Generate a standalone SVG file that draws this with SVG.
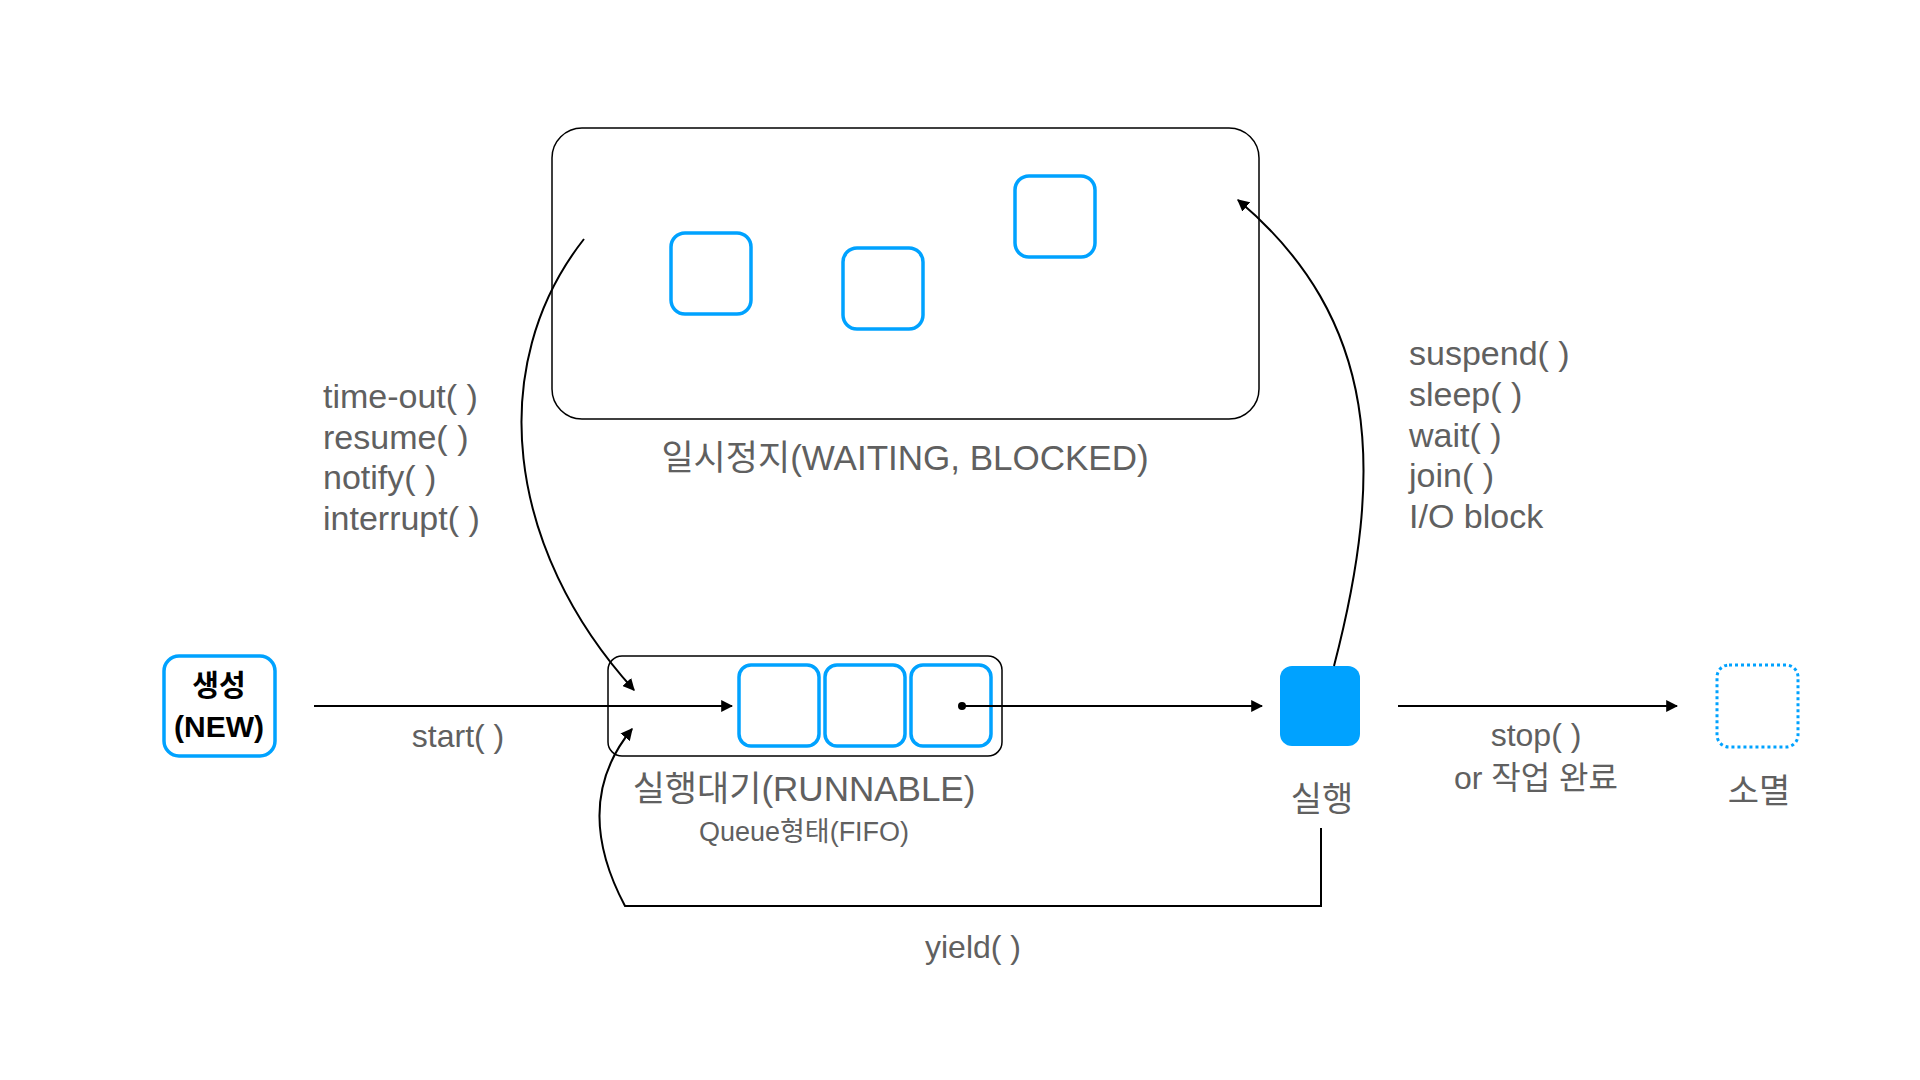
<svg xmlns="http://www.w3.org/2000/svg" width="1920" height="1080" viewBox="0 0 1920 1080">
<style>
.lbl{font-family:"Liberation Sans","Noto Sans CJK KR",sans-serif;fill:#606060;}
.blk{font-family:"Liberation Sans","Noto Sans CJK KR",sans-serif;fill:#000;font-weight:bold;}
.bq{fill:#fff;stroke:#00a2ff;stroke-width:3.5;}
.frame{fill:none;stroke:#000;stroke-width:1.5;}
.conn{fill:none;stroke:#000;stroke-width:2;}
</style>
<defs>
<marker id="ah" viewBox="0 0 10 10" refX="9" refY="5" markerWidth="6" markerHeight="6" orient="auto" markerUnits="strokeWidth">
<path d="M0,0 L10,5 L0,10 z" fill="#000"/>
</marker>
</defs>
<rect width="1920" height="1080" fill="#fff"/>

<g id="waiting">
<rect class="frame" x="552" y="128" width="707" height="291" rx="30"/>
<rect class="bq" x="671" y="233" width="80" height="81" rx="14"/>
<rect class="bq" x="843" y="248" width="80" height="81" rx="14"/>
<rect class="bq" x="1015" y="176" width="80" height="81" rx="14"/>
<text class="lbl" x="905" y="470" font-size="35" text-anchor="middle">일시정지(WAITING, BLOCKED)</text>
</g>

<g id="new">
<rect class="bq" x="164" y="656" width="111" height="100" rx="15"/>
<text class="blk" x="219" y="696" font-size="29" text-anchor="middle">생성</text>
<text class="blk" x="219" y="737" font-size="30" text-anchor="middle">(NEW)</text>
</g>

<g id="runnable">
<rect class="frame" x="608" y="656" width="394" height="100" rx="14"/>
<rect class="bq" x="739" y="665" width="80" height="81" rx="12"/>
<rect class="bq" x="825" y="665" width="80" height="81" rx="12"/>
<rect class="bq" x="911" y="665" width="80" height="81" rx="12"/>
<text class="lbl" x="804" y="801" font-size="35" text-anchor="middle">실행대기(RUNNABLE)</text>
<text class="lbl" x="804" y="841" font-size="27" text-anchor="middle">Queue형태(FIFO)</text>
</g>

<g id="running">
<rect x="1280" y="666" width="80" height="80" rx="12" fill="#00a2ff"/>
<text class="lbl" x="1322" y="811" font-size="34" text-anchor="middle">실행</text>
</g>

<g id="terminated">
<rect x="1717" y="665" width="81" height="82" rx="12" fill="none" stroke="#00a2ff" stroke-width="3" stroke-dasharray="3 3"/>
<text class="lbl" x="1759" y="803" font-size="34" text-anchor="middle">소멸</text>
</g>

<g id="connectors">
<line class="conn" x1="314" y1="706" x2="732" y2="706" marker-end="url(#ah)"/>
<circle cx="962" cy="706" r="4" fill="#000"/>
<line class="conn" x1="962" y1="706" x2="1262" y2="706" marker-end="url(#ah)"/>
<line class="conn" x1="1398" y1="706" x2="1677" y2="706" marker-end="url(#ah)"/>
<path class="conn" d="M584,239 C485,365 505,548 634,690" marker-end="url(#ah)"/>
<path class="conn" d="M1334,666 C1385,470 1380,320 1238,200" marker-end="url(#ah)"/>
<path class="conn" d="M1321,828 L1321,906 L625,906 C590,840 590,780 632,729" marker-end="url(#ah)"/>
</g>

<g id="labels">
<text class="lbl" x="458" y="747" font-size="32" text-anchor="middle">start( )</text>
<text class="lbl" x="973" y="958" font-size="32" text-anchor="middle">yield( )</text>
<text class="lbl" x="1536" y="746" font-size="32" text-anchor="middle">stop( )</text>
<text class="lbl" x="1536" y="789" font-size="32" text-anchor="middle">or 작업 완료</text>
<text class="lbl" font-size="34">
<tspan x="323" y="408">time-out( )</tspan>
<tspan x="323" y="449">resume( )</tspan>
<tspan x="323" y="489">notify( )</tspan>
<tspan x="323" y="530">interrupt( )</tspan>
</text>
<text class="lbl" font-size="34">
<tspan x="1409" y="365">suspend( )</tspan>
<tspan x="1409" y="406">sleep( )</tspan>
<tspan x="1409" y="447">wait( )</tspan>
<tspan x="1409" y="487">join( )</tspan>
<tspan x="1409" y="528">I/O block</tspan>
</text>
</g>
</svg>
